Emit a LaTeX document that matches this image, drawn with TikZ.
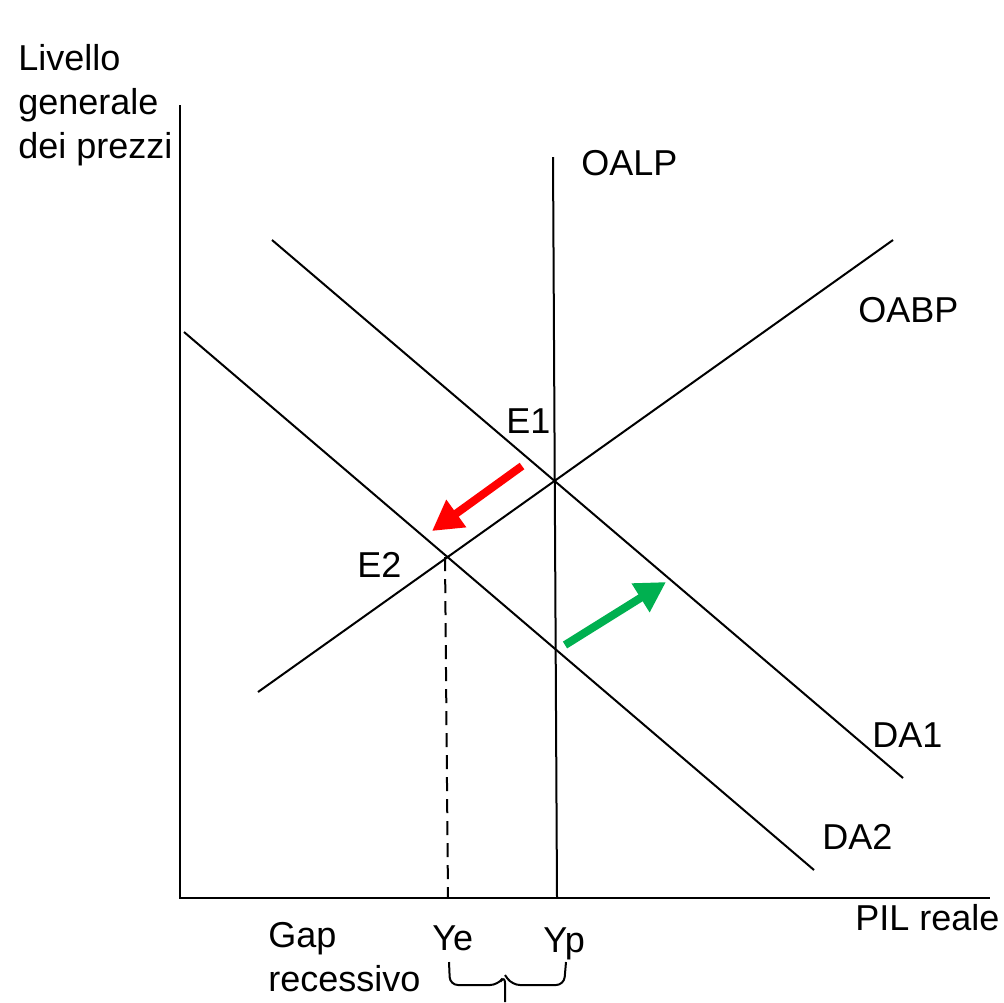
\documentclass[tikz,border=0pt]{standalone}
\usepackage{fontspec}
\setmainfont{Liberation Sans}
\usetikzlibrary{arrows.meta}
\definecolor{shiftred}{HTML}{FF0000}
\definecolor{shiftgreen}{HTML}{00B050}
\tikzset{
  axis/.style={line width=1.2pt},
  curve/.style={line width=1pt},
  lbl/.style={anchor=base west,inner sep=0pt,font=\fontsize{18}{22}\selectfont},
  mlbl/.style={lbl,align=left,anchor=north west},
  move/.style={line width=4pt,-{Triangle[length=15pt,width=16pt]}},
}

\begin{document}
\begin{tikzpicture}[x=0.5pt,y=-0.5pt]
\useasboundingbox (0,0) rectangle (1004,1002);
% axes
\coordinate (o) at (180,898);
\coordinate (ytop) at (180,105);
\coordinate (xend) at (990,898);
\draw[axis] (ytop) -- (o) -- (xend);
% curves
\coordinate (oalpT) at (553,157);
\coordinate (oalpB) at (557,898);
\coordinate (oabpL) at (258,692);
\coordinate (oabpR) at (893,240);
\coordinate (da1L) at (272,240);
\coordinate (da1R) at (903,778);
\coordinate (da2L) at (184,332);
\coordinate (da2R) at (814,870);
\draw[curve] (oalpT) -- (oalpB);
\draw[curve] (oabpL) -- (oabpR);
\draw[curve] (da1L) -- (da1R);
\draw[curve] (da2L) -- (da2R);
% equilibrium E2 down to Ye
\coordinate (e2) at (445,557);
\coordinate (ye) at (448,898);
\draw[curve,dashed,dash pattern=on 7pt off 4pt] (e2) -- (ye);
% shifts
\coordinate (redS) at (522,466);
\coordinate (redE) at (432,531);
\coordinate (grnS) at (565,645);
\coordinate (grnE) at (666,582);
\draw[move,shiftred] (redS) -- (redE);
\draw[move,shiftgreen] (grnS) -- (grnE);
% gap bracket
\coordinate (braceL) at (449,962);
\coordinate (braceM) at (505,985);
\coordinate (braceR) at (566,962);
\draw[curve,rounded corners=4pt] (braceL) -- (450,985) -- (498,985) -- (505,975)
  -- (braceM |- 0,1002);
\draw[curve,rounded corners=4pt] (braceR) -- (564,985) -- (512,985) -- (505,975);
% labels
\node[mlbl] (ylab) at (18,44) {Livello\\generale\\dei prezzi};
\node[lbl] (oalp) at (581,175) {OALP};
\node[lbl] (oabp) at (858,322) {OABP};
\node[lbl] (e1lab) at (506,433) {E1};
\node[lbl] (e2lab) at (357,577) {E2};
\node[lbl] (da1) at (872,747) {DA1};
\node[lbl] (da2) at (822,849) {DA2};
\node[lbl] (xlab) at (855,930) {PIL reale};
\node[lbl] (yelab) at (432,950) {Ye};
\node[lbl] (yplab) at (543,952) {Yp};
\node[mlbl] (gap) at (268,922) {Gap\\recessivo};
\end{tikzpicture}
\end{document}
